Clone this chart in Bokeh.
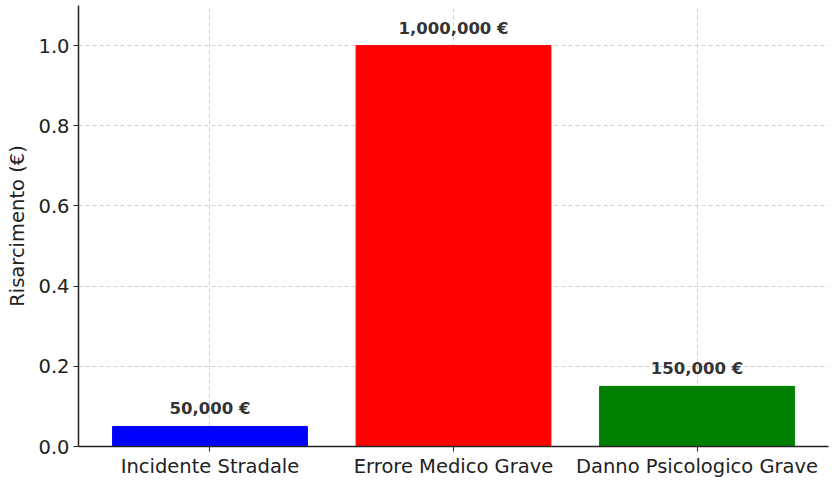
from bokeh.plotting import figure
from bokeh.models import ColumnDataSource, FixedTicker, CustomJSTickFormatter, Range1d
from bokeh.embed import file_html
from bokeh.resources import INLINE
from bokeh.core.properties import value

categories = ["Incidente Stradale", "Errore Medico Grave", "Danno Psicologico Grave"]
risarcimento = [50000, 1000000, 150000]
colors = ["blue", "red", "green"]
value_labels = ["50,000 €", "1,000,000 €", "150,000 €"]
y_ticks = [0, 200000, 400000, 600000, 800000, 1000000]

xs = list(range(len(categories)))
src = ColumnDataSource(dict(x=xs, top=risarcimento, color=colors, lab=value_labels))

p = figure(width=840, height=480, output_backend="svg", toolbar_location=None,
           x_range=Range1d(-0.54, 2.54), y_range=Range1d(0, 1100000),
           min_border_left=78, min_border_right=12, min_border_top=5, min_border_bottom=30)
p.outline_line_color = None
p.background_fill_color = "white"

p.vbar(x="x", top="top", width=0.8, color="color", source=src)
p.text(x="x", y="top", text="lab", source=src, text_align="center", text_baseline="bottom",
       y_offset=-8, text_font=value("DejaVu Sans"), text_font_style="bold",
       text_font_size="16.5px", text_color="#333333")

p.xaxis.ticker = FixedTicker(ticks=xs)
p.xaxis.major_label_overrides = {i: c for i, c in enumerate(categories)}
p.yaxis.ticker = FixedTicker(ticks=y_ticks)
p.yaxis.formatter = CustomJSTickFormatter(code="return (tick/1e6).toFixed(1);")
p.yaxis.axis_label = "Risarcimento (€)"

for ax in (p.xaxis, p.yaxis):
    ax.major_label_text_font = "DejaVu Sans"
    ax.major_label_text_font_size = "19.5px"
    ax.major_label_text_color = "#222222"
    ax.axis_line_color = "#222222"
    ax.axis_line_width = 1.5
    ax.major_tick_line_color = "#222222"
    ax.major_tick_in = 0
    ax.major_tick_out = 5
    ax.minor_tick_line_color = None
p.xaxis.major_label_standoff = 3
p.yaxis.major_label_standoff = 4
p.yaxis.axis_label_text_font = "DejaVu Sans"
p.yaxis.axis_label_text_font_size = "19.5px"
p.yaxis.axis_label_text_font_style = "normal"
p.yaxis.axis_label_text_color = "#222222"
p.yaxis.axis_label_standoff = 6

for g in (p.xgrid, p.ygrid):
    g.grid_line_color = "#bbbbbb"
    g.grid_line_dash = "4 3"
    g.grid_line_alpha = 0.7
    g.level = "underlay"

open("out.html", "w").write(file_html(p, INLINE))
